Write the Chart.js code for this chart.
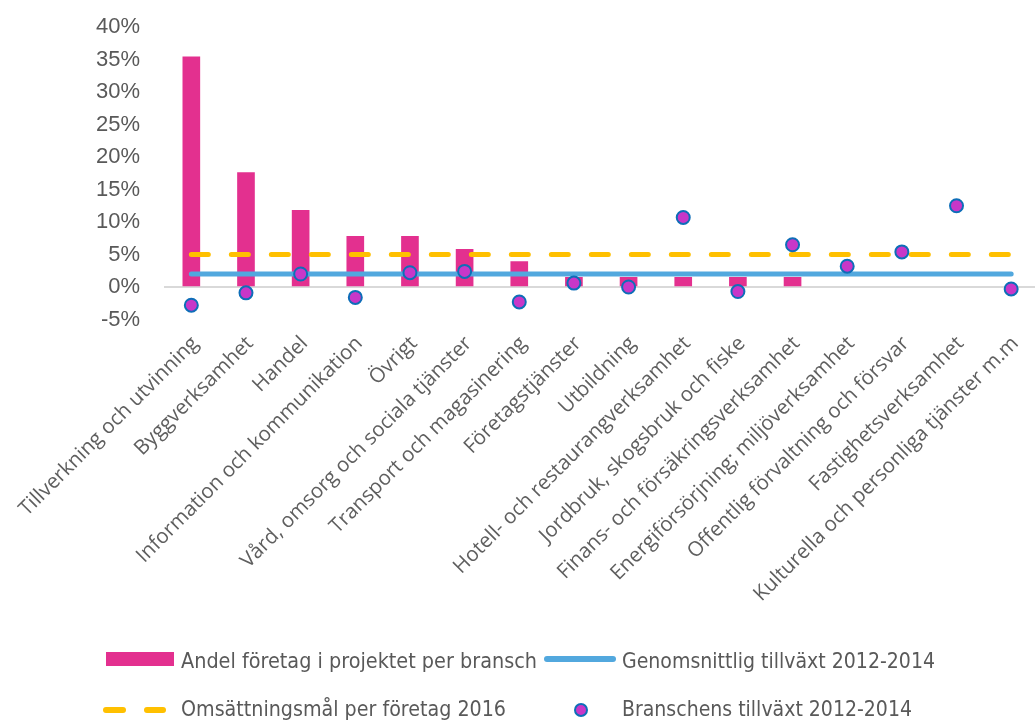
<!DOCTYPE html>
<html>
<head>
<meta charset="utf-8">
<script src="https://cdn.jsdelivr.net/npm/chart.js@4/dist/chart.umd.min.js"></script>
<style>
  html, body { margin:0; padding:0; background:#fff; overflow:hidden; width:1035px; height:722px; }
  #wrap { position:absolute; left:0; top:0; width:1047px; height:722px; }
  .lg { position:absolute; font-family:"Liberation Sans Narrow","DejaVu Sans Condensed","Open Sans",sans-serif; font-size:21px; color:#595959; white-space:nowrap; transform-origin:0 50%; line-height:24px; }
  .mk { position:absolute; }
</style>
</head>
<body>
<div id="wrap"><canvas id="c" width="1047" height="722"></canvas></div>

<div class="mk" style="left:106px;top:652px;width:68px;height:14px;background:#E3308F"></div>
<div class="lg" id="t1" data-w="356" style="left:181px;top:649px">Andel företag i projektet per bransch</div>
<div class="mk" style="left:544px;top:656px;width:72px;height:6px;border-radius:3px;background:#52A8DE"></div>
<div class="lg" id="t2" data-w="313" style="left:622px;top:649px">Genomsnittlig tillväxt 2012-2014</div>

<div class="mk" style="left:103px;top:707px;width:23px;height:6px;border-radius:3px;background:#FFC000"></div>
<div class="mk" style="left:144px;top:707px;width:22px;height:6px;border-radius:3px;background:#FFC000"></div>
<div class="lg" id="t3" data-w="325" style="left:181px;top:697px">Omsättningsmål per företag 2016</div>
<div class="mk" style="left:574px;top:703px;width:10px;height:10px;border-radius:50%;background:#C837C8;border:2px solid #0E6EB8"></div>
<div class="lg" id="t4" data-w="290" style="left:622px;top:697px">Branschens tillväxt 2012-2014</div>

<script>
const categories = [
  "Tillverkning och utvinning",
  "Byggverksamhet",
  "Handel",
  "Information och kommunikation",
  "Övrigt",
  "Vård, omsorg och sociala tjänster",
  "Transport och magasinering",
  "Företagstjänster",
  "Utbildning",
  "Hotell- och restaurangverksamhet",
  "Jordbruk, skogsbruk och fiske",
  "Finans- och försäkringsverksamhet",
  "Energiförsörjning; miljöverksamhet",
  "Offentlig förvaltning och försvar",
  "Fastighetsverksamhet",
  "Kulturella och personliga tjänster m.m"
];
const shareOfCompanies = [35.4, 17.6, 11.8, 7.8, 7.8, 5.8, 3.9, 1.5, 1.5, 1.5, 1.5, 1.5, null, null, null, null];
const averageGrowth    = [2.0, 2.0, 2.0, 2.0, 2.0, 2.0, 2.0, 2.0, 2.0, 2.0, 2.0, 2.0, 2.0, 2.0, 2.0, 2.0];
const turnoverTarget   = [5.0, 5.0, 5.0, 5.0, 5.0, 5.0, 5.0, 5.0, 5.0, 5.0, 5.0, 5.0, 5.0, 5.0, 5.0, 5.0];
const industryGrowth   = [-2.8, -0.9, 2.0, -1.6, 2.2, 2.4, -2.3, 0.6, 0.0, 10.7, -0.7, 6.5, 3.2, 5.4, 12.5, -0.3];
const yTicks = [-5, 0, 5, 10, 15, 20, 25, 30, 35, 40];

// fit legend text widths
document.querySelectorAll('.lg').forEach(el => {
  const target = +el.dataset.w;
  const w = el.getBoundingClientRect().width;
  if (w > 0) el.style.transform = 'scaleX(' + (target / w) + ')';
});

new Chart(document.getElementById('c'), {
  data: {
    labels: categories,
    datasets: [
      {
        type: 'line', label: 'Branschens tillväxt 2012-2014', data: industryGrowth,
        showLine: false, pointRadius: 6.5, pointHoverRadius: 6.5, pointBorderWidth: 2,
        pointBackgroundColor: '#C837C8', pointBorderColor: '#0E6EB8', order: 0
      },
      {
        type: 'line', label: 'Genomsnittlig tillväxt 2012-2014', data: averageGrowth,
        borderColor: '#52A8DE', borderWidth: 5, pointRadius: 0, borderCapStyle: 'round', order: 1
      },
      {
        type: 'line', label: 'Omsättningsmål per företag 2016', data: turnoverTarget,
        borderColor: '#FFC000', borderWidth: 5, pointRadius: 0, borderCapStyle: 'round',
        borderDash: [17, 23], order: 2
      },
      {
        type: 'bar', label: 'Andel företag i projektet per bransch', data: shareOfCompanies,
        backgroundColor: '#E3308F', barThickness: 17, order: 3
      }
    ]
  },
  options: {
    responsive: false,
    animation: false,
    events: [],
    layout: { padding: { top: 27, right: 0, bottom: 82.5, left: 0 } },
    plugins: { legend: { display: false }, tooltip: { enabled: false } },
    scales: {
      x: {
        offset: true,
        grid: { display: false, drawTicks: false },
        border: { display: false },
        ticks: {
          autoSkip: false, maxRotation: 45, minRotation: 45, padding: 12, labelOffset: 4,
          color: '#5f5f5f', font: { family: 'Open Sans', size: 20.5 }
        },
        afterFit: s => { s.height = 320; }
      },
      y: {
        min: -5, max: 40,
        afterBuildTicks: s => { s.ticks = yTicks.map(v => ({ value: v })); },
        grid: {
          drawTicks: false,
          color: ctx => (ctx.tick && ctx.tick.value === 0) ? '#D9D9D9' : 'rgba(0,0,0,0)',
          lineWidth: 2
        },
        border: { display: false },
        ticks: {
          padding: 24, color: '#595959',
          font: { family: 'Liberation Sans', size: 22 },
          callback: v => v + '%'
        },
        afterFit: s => { s.width = 164; s.paddingTop = 12; s.paddingBottom = 12; }
      }
    }
  }
});
</script>
</body>
</html>
